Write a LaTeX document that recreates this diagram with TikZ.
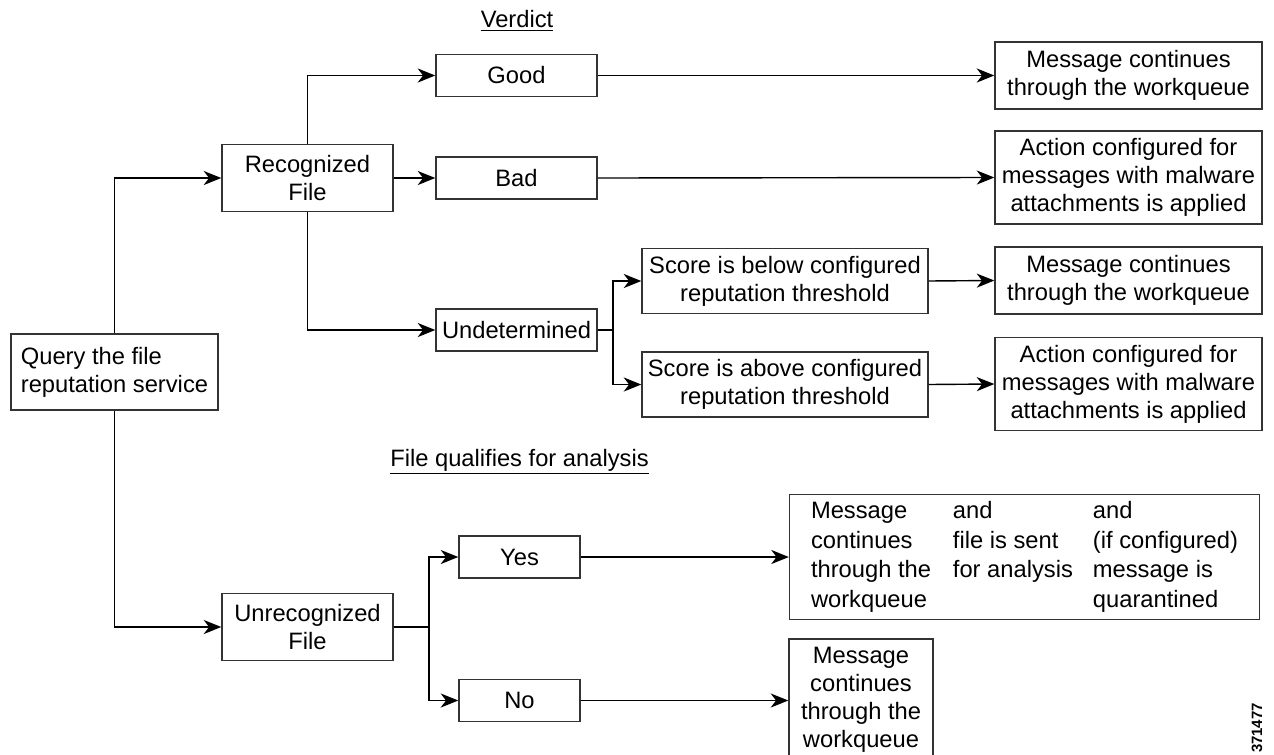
\documentclass[tikz,border=0pt]{standalone}
\usepackage{fontspec}
\setmainfont{Liberation Sans}
\usetikzlibrary{arrows.meta}
\begin{document}
\begin{tikzpicture}[x=0.02cm, y=-0.02cm, line width=0.8pt, font=\fontsize{13.5}{16}\selectfont]
\tikzstyle{box_style} = [draw=black!80, inner sep=2pt, align=center]
\tikzstyle{file_box} = [box_style, minimum width=3.42cm, minimum height=1.34cm]
\tikzstyle{verdict_box} = [box_style, minimum width=3.22cm, minimum height=0.84cm]
\tikzstyle{score_box} = [box_style, minimum width=5.72cm, minimum height=1.3cm]
\tikzstyle{result_box} = [box_style, minimum width=5.34cm]
\tikzstyle{answer_box} = [box_style, minimum width=2.42cm, minimum height=0.84cm]
\tikzstyle{arrow_style} = [draw=black, -{Stealth[length=10pt, width=8pt, inset=3pt]}]
\tikzstyle{line_style} = [draw=black]

\useasboundingbox (0,0) rectangle (1274,754);

\node[box_style, align=left, minimum width=4.14cm, minimum height=1.52cm] (query) at (114.5,372) {Query the file\\reputation service};

\node[file_box] (recog) at (307.5,178) {Recognized\\File};
\node[file_box] (unrecog) at (307.5,627) {Unrecognized\\File};

\node (verdict_label) at (517,21) {\underline{Verdict}};
\node[verdict_box] (good) at (516.5,75.5) {Good};
\node[verdict_box] (bad) at (516.5,178) {Bad};
\node[verdict_box] (undet) at (516.5,330) {Undetermined};

\node[score_box] (below) at (785,281) {Score is below configured\\reputation threshold};
\node[score_box] (above) at (785,384.5) {Score is above configured\\reputation threshold};

\node[result_box, minimum height=1.34cm] (res1) at (1128.5,75.5) {Message continues\\through the workqueue};
\node[result_box, minimum height=1.86cm] (res2) at (1128.5,177.5) {Action configured for\\messages with malware\\attachments is applied};
\node[result_box, minimum height=1.34cm] (res3) at (1128.5,280.5) {Message continues\\through the workqueue};
\node[result_box, minimum height=1.86cm] (res4) at (1128.5,384) {Action configured for\\messages with malware\\attachments is applied};

\node (analysis_label) at (519.5,462) {\underline{File qualifies for analysis}};
\node[answer_box] (yes) at (519.5,557) {Yes};
\node[answer_box] (no) at (519.5,700.5) {No};

\node[box_style, minimum width=9.4cm, minimum height=2.4cm] (yes_res) at (1024.5,557) {\renewcommand{\arraystretch}{1.05}%
\begin{tabular}{@{}p{2.84cm}@{}p{2.8cm}@{}l@{}}
Message & and & and\\
continues & file is sent & (if configured)\\
through the & for analysis & message is\\
workqueue & & quarantined
\end{tabular}};
\node[box_style, minimum width=2.88cm, minimum height=2.42cm] (no_res) at (861,699.5) {Message\\continues\\through the\\workqueue};

\node[rotate=90, font=\fontsize{8.5}{10}\selectfont\bfseries] (fig_id) at (1257,728) {371477};

\coordinate (undet_split) at (613,330);
\coordinate (unrecog_split) at (429,627);

\draw[arrow_style] (query.north) |- (recog.west);
\draw[arrow_style] (query.south) |- (unrecog.west);
\draw[arrow_style] (recog.north) |- (good.west);
\draw[arrow_style] (recog.east) -- (bad.west);
\draw[arrow_style] (recog.south) |- (undet.west);
\draw[arrow_style] (good.east) -- (res1.west);
\draw[arrow_style] (bad.east) -- (res2.west);
\draw[line_style] (undet.east) -- (undet_split);
\draw[arrow_style] (undet_split) |- (below.west);
\draw[arrow_style] (undet_split) |- (above.west);
\draw[arrow_style] (below.east) -- (res3.west);
\draw[arrow_style] (above.east) -- (res4.west);
\draw[line_style] (unrecog.east) -- (unrecog_split);
\draw[arrow_style] (unrecog_split) |- (yes.west);
\draw[arrow_style] (unrecog_split) |- (no.west);
\draw[arrow_style] (yes.east) -- (yes_res.west);
\draw[arrow_style] (no.east) -- (no.east -| no_res.west);
\end{tikzpicture}
\end{document}
